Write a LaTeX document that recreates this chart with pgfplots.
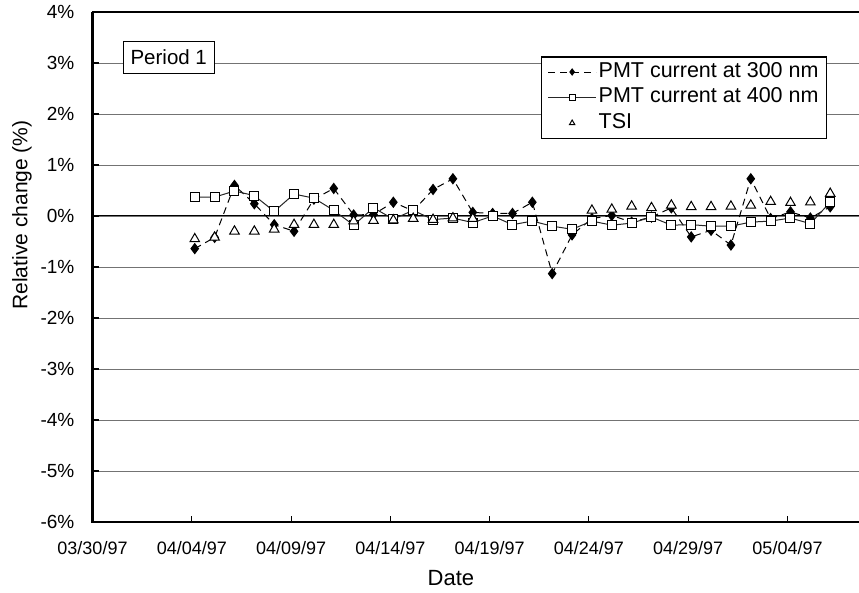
\documentclass[border=0pt]{standalone}
\usepackage{fontspec}
\setmainfont{Liberation Sans}
\usepackage{pgfplots}
\pgfplotsset{compat=1.18}
\usetikzlibrary{calc}

\pgfplotsset{
  linelegend/.style={legend image code/.code={\draw[mark repeat=2,mark phase=2,##1] plot coordinates {(0pt,0pt) (24pt,0pt) (48pt,0pt)};}},
  marklegend/.style={legend image code/.code={\draw[only marks,##1] plot coordinates {(24pt,0pt)};}},
}

\pgfplotstableread{
x y
5.15 -0.64
6.15 -0.42
7.15 0.60
8.15 0.24
9.15 -0.17
10.15 -0.30
11.15 0.33
12.15 0.54
13.15 0.02
14.15 0.03
15.15 0.27
16.15 0.10
17.15 0.52
18.15 0.73
19.15 0.07
20.15 0.05
21.15 0.05
22.15 0.27
23.15 -1.13
24.15 -0.37
25.15 -0.05
26.15 0.01
27.15 -0.12
28.15 -0.02
29.15 0.16
30.15 -0.41
31.15 -0.28
32.15 -0.57
33.15 0.73
34.15 -0.05
35.15 0.08
36.15 -0.04
37.15 0.18
}\pmtA

\pgfplotstableread{
x y
5.15 0.37
6.15 0.37
7.15 0.49
8.15 0.40
9.15 0.09
10.15 0.43
11.15 0.35
12.15 0.11
13.15 -0.18
14.15 0.16
15.15 -0.06
16.15 0.11
17.15 -0.07
18.15 -0.04
19.15 -0.13
20.15 0.00
21.15 -0.17
22.15 -0.10
23.15 -0.20
24.15 -0.26
25.15 -0.10
26.15 -0.18
27.15 -0.14
28.15 -0.02
29.15 -0.18
30.15 -0.17
31.15 -0.20
32.15 -0.20
33.15 -0.12
34.15 -0.10
35.15 -0.04
36.15 -0.15
37.15 0.27
}\pmtB

\pgfplotstableread{
x y
5.15 -0.45
6.15 -0.42
7.15 -0.30
8.15 -0.30
9.15 -0.26
10.15 -0.17
11.15 -0.17
12.15 -0.17
13.15 -0.10
14.15 -0.09
15.15 -0.08
16.15 -0.05
17.15 -0.07
18.15 -0.04
19.15 -0.05
25.15 0.11
26.15 0.13
27.15 0.19
28.15 0.16
29.15 0.21
30.15 0.18
31.15 0.18
32.15 0.19
33.15 0.21
34.15 0.28
35.15 0.26
36.15 0.27
37.15 0.44
}\tsi

\begin{document}
\begin{tikzpicture}
\begin{axis}[
  name=ax,
  scale only axis,
  width=766.5pt, height=510pt,
  xmin=0, xmax=38.6, ymin=-6, ymax=4,
  axis line style={draw=none},
  xtick={0,5,...,35},
  xticklabels={03/30/97,04/04/97,04/09/97,04/14/97,04/19/97,04/24/97,04/29/97,05/04/97},
  xtick pos=bottom, ytick pos=left,
  tick align=inside, major tick length=6pt,
  xtick style={black, line width=1pt},
  ytick={-6,...,4},
  yticklabels={-6\%,-5\%,-4\%,-3\%,-2\%,-1\%,0\%,1\%,2\%,3\%,4\%},
  ytick style={black, line width=1.5pt},
  ymajorgrids,
  grid style={black!55, line width=0.8pt},
  extra y ticks={0},
  extra y tick labels={},
  extra y tick style={grid=major, major grid style={black, line width=1pt}},
  xticklabel style={font=\fontsize{18}{21}\selectfont, anchor=center, yshift=-26pt},
  yticklabel style={font=\fontsize{19}{22}\selectfont, anchor=east, inner sep=0pt, xshift=-18pt},
  xlabel={Date},
  xlabel style={font=\fontsize{22}{26}\selectfont, at={(axis description cs:0.4676,-0.1098)}, anchor=center},
  ylabel={Relative change (\%)},
  ylabel style={font=\fontsize{21}{25}\selectfont, at={(axis description cs:-0.092,0.602)}, anchor=center},
  legend style={at={(0.585,0.9137)}, anchor=north west, draw=black, line width=1.5pt,
    font=\fontsize{21.5}{25}\selectfont, inner xsep=6pt, inner ysep=2.5pt,
    nodes={inner ysep=3pt, inner xsep=2pt, text height=15pt, text depth=4.5pt},
    /tikz/every even column/.append style={column sep=3pt}},
  legend cell align=left,
  legend image post style={mark size=3pt},
]
\addplot[black, line width=1pt, dash pattern=on 7pt off 5pt, mark=diamond*, mark size=5pt,
  mark options={solid, fill=black}, linelegend]
  table[x=x,y=y] {\pmtA};
\addlegendentry{PMT current at 300 nm}
\addplot[black!85, line width=1pt, mark=square*, mark size=4.5pt,
  mark options={solid, fill=white, draw=black}, linelegend]
  table[x=x,y=y] {\pmtB};
\addlegendentry{PMT current at 400 nm}
\addplot[only marks, black, line width=1pt, mark=triangle*, mark size=5.5pt,
  mark options={fill=white, draw=black}, marklegend]
  table[x=x,y=y] {\tsi};
\addlegendentry{TSI}
\node[draw=black, line width=1.5pt, fill=white, minimum width=91pt, minimum height=32pt,
  inner sep=0pt, font=\fontsize{20.5}{24}\selectfont] at (axis cs:3.84,3.11) {Period 1};
\end{axis}
\draw[line width=2.5pt, line join=miter] (ax.north west) -- (ax.south west) -- (ax.south east);
\draw[line width=2pt] (ax.north west) -- (ax.north east);
\pgfresetboundingbox
\path ($(ax.south west)+(-92.5pt,-71pt)$) rectangle ($(ax.north east)+(0pt,12pt)$);
\end{tikzpicture}
\end{document}
